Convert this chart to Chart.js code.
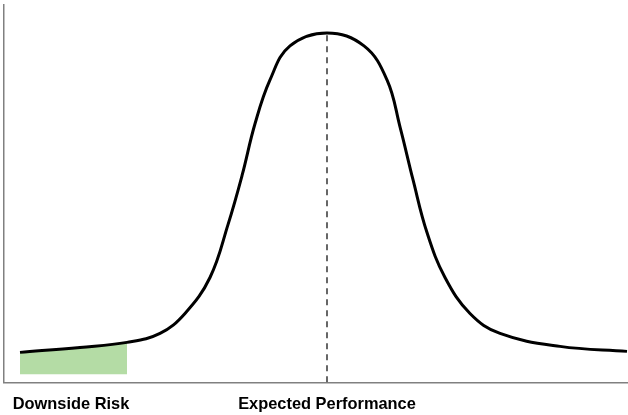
<!DOCTYPE html>
<html>
<head>
<meta charset="utf-8">
<script src="https://cdn.jsdelivr.net/npm/chart.js@4/dist/chart.umd.min.js"></script>
<style>
  html, body { margin: 0; padding: 0; background: #fff; }
  #wrap { width: 628px; height: 415px; }
</style>
</head>
<body>
<div id="wrap"><canvas id="c" width="628" height="415"></canvas></div>
<script>
// Performance axis (arbitrary units) and distribution density (arbitrary units)
const curveX = [16, 76, 123, 156, 181, 206, 224, 238, 251, 266, 286, 323, 360, 383, 396, 409, 423, 441, 466, 496, 556, 623];
const curveY = [30, 35, 40, 49, 69, 105, 158, 207, 259, 303, 337, 350, 337, 303, 256, 203, 150, 105, 69, 49, 36, 31];

// Downside risk region (left tail)
const riskX = [16, 76, 123];
const riskY = [30, 35, 40];
const riskFloor = 8;

// Expected performance marker
const expectedX = 323;
const expectedPeak = 350;

// Axis labels
const tickValues = [67, 323];
const tickLabels = ['Downside Risk', 'Expected Performance'];

const xMin = 0, xMax = 624, yMin = 0, yMax = 378;

const toPts = (xs, ys) => xs.map((x, i) => ({ x: x, y: ys[i] }));

new Chart(document.getElementById('c'), {
  type: 'line',
  data: {
    datasets: [
      {
        label: 'Distribution',
        data: toPts(curveX, curveY),
        borderColor: '#000',
        borderWidth: 3,
        pointRadius: 0,
        tension: 0.4,
        fill: false,
        order: 0
      },
      {
        label: 'Expected',
        data: [{ x: expectedX, y: 0 }, { x: expectedX, y: expectedPeak }],
        borderColor: '#000',
        borderWidth: 1.2,
        borderDash: [6, 5],
        pointRadius: 0,
        fill: false,
        order: 1
      },
      {
        label: 'Downside',
        data: toPts(riskX, riskY),
        borderWidth: 0,
        borderColor: 'rgba(0,0,0,0)',
        backgroundColor: '#b4dca5',
        pointRadius: 0,
        tension: 0.4,
        fill: { value: riskFloor },
        order: 2
      }
    ]
  },
  options: {
    responsive: false,
    animation: false,
    layout: { padding: { left: 4, top: 5, right: 0, bottom: -11 } },
    plugins: { legend: { display: false }, tooltip: { enabled: false } },
    scales: {
      x: {
        type: 'linear',
        min: xMin,
        max: xMax,
        grid: { display: false, drawTicks: false },
        border: { display: true, color: '#808080', width: 1.5 },
        afterBuildTicks: (axis) => { axis.ticks = tickValues.map(v => ({ value: v })); },
        ticks: {
          autoSkip: false,
          maxRotation: 0,
          padding: 12,
          color: '#000',
          font: { family: 'Liberation Sans, Arial, sans-serif', size: 16.4, weight: 'bold' },
          callback: (v) => { const i = tickValues.indexOf(v); return i >= 0 ? tickLabels[i] : ''; }
        }
      },
      y: {
        type: 'linear',
        min: yMin,
        max: yMax,
        grid: { display: false, drawTicks: false },
        border: { display: true, color: '#808080', width: 1.5 },
        ticks: { display: false }
      }
    }
  }
});
</script>
</body>
</html>
